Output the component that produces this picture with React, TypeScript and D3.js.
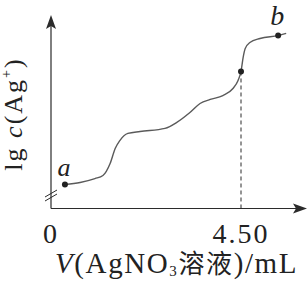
import * as d3 from 'd3';

// volume of AgNO3 (mL) and lg c(Ag+) (arbitrary units)
const volumes = [0.33, 0.69, 1.04, 1.23, 1.4, 1.52, 1.63, 1.82, 2.11, 2.7, 2.98, 3.29, 3.53, 3.77, 4.07, 4.31, 4.43, 4.5, 4.55, 4.6, 4.71, 4.95, 5.38, 5.57];
const lgAg = [1.24, 1.35, 1.55, 1.71, 2.33, 3.11, 3.52, 3.89, 3.99, 4.15, 4.46, 4.97, 5.44, 5.65, 5.85, 6.22, 6.63, 7.1, 7.82, 8.29, 8.6, 8.81, 8.96, 9.07];

const xTicks = [0, 4.5];
const tickLabels = ['0', '4.50'];

// labelled points: a, equivalence point, b
const markedPoints = [
  { v: 0.33, y: 1.24, label: 'a' },
  { v: 4.5, y: 7.1, label: '' },
  { v: 5.38, y: 8.96, label: 'b' },
];

const W = 308;
const H = 287;
const serif = '"Liberation Serif", "DejaVu Serif", serif';
const cjk = '"Noto Sans CJK SC", sans-serif';

export default function App() {
  const x = d3.scaleLinear().domain([0, 4.5]).range([51, 241]);
  const y = d3.scaleLinear().domain([0, 10]).range([208.5, 15.5]);

  const pts: [number, number][] = volumes.map((v, i) => [x(v), y(lgAg[i])]);
  const line = d3.line().curve(d3.curveMonotoneX)(pts) || '';

  const x0 = x(0);
  const yAxis = y(0);
  const axisColor = '#2b2b2b';

  const eq = markedPoints[1];

  return (
    <svg width={W} height={H} style={{ position: 'fixed', left: 0, top: 0, background: '#fff' }}>
      {/* y axis with arrow */}
      <line x1={x0} y1={yAxis} x2={x0} y2={26} stroke={axisColor} strokeWidth={1.2} />
      <path d={`M${x0},15 L${x0 - 5},29 L${x0},26 L${x0 + 5},29 Z`} fill={axisColor} />
      {/* x axis with arrow */}
      <line x1={x0} y1={yAxis} x2={296} y2={yAxis} stroke={axisColor} strokeWidth={1.2} />
      <path d={`M307,${yAxis} L293,${yAxis - 5} L296,${yAxis} L293,${yAxis + 5} Z`} fill={axisColor} />

      {/* axis break marks */}
      <line x1={45} y1={197} x2={57} y2={190} stroke={axisColor} strokeWidth={1} />
      <line x1={45} y1={201} x2={57} y2={194} stroke={axisColor} strokeWidth={1} />

      {/* dashed guide at equivalence point */}
      <line x1={x(eq.v)} y1={y(eq.y)} x2={x(eq.v)} y2={yAxis} stroke={axisColor} strokeWidth={1} strokeDasharray="4,3" />

      {/* titration curve */}
      <path d={line} fill="none" stroke="#5a5a5a" strokeWidth={1.4} />

      {markedPoints.map((p, i) => (
        <circle key={i} cx={x(p.v)} cy={y(p.y)} r={3} fill="#222" />
      ))}
      <text x={x(markedPoints[0].v) - 1} y={y(markedPoints[0].y) - 9} fontFamily={serif} fontStyle="italic" fontSize={26} textAnchor="middle" fill="#222">a</text>
      <text x={x(markedPoints[2].v) - 1} y={y(markedPoints[2].y) - 11} fontFamily={serif} fontStyle="italic" fontSize={28} textAnchor="middle" fill="#222">b</text>

      {/* tick labels */}
      {xTicks.map((t, i) => (
        <text key={t} x={x(t)} y={243} fontFamily={serif} fontSize={28} letterSpacing={2} textAnchor="middle" fill="#222">{tickLabels[i]}</text>
      ))}

      {/* x axis title */}
      <text x={55} y={273} fontFamily={serif} fontSize={29} letterSpacing={1.6} fill="#222">
        <tspan fontStyle="italic">V</tspan>
        <tspan>(AgNO</tspan>
        <tspan fontSize={15} dy={3}>3</tspan>
        <tspan fontFamily={cjk} fontSize={26} dy={-3}>溶液</tspan>
        <tspan>)/mL</tspan>
      </text>

      {/* y axis title */}
      <text transform="translate(22,114) rotate(-90)" fontFamily={serif} fontSize={26} textAnchor="middle" letterSpacing={2} fill="#222">
        <tspan>lg </tspan>
        <tspan fontStyle="italic">c</tspan>
        <tspan>(Ag</tspan>
        <tspan fontSize={14} dy={-11}>+</tspan>
        <tspan dy={11}>)</tspan>
      </text>
    </svg>
  );
}
